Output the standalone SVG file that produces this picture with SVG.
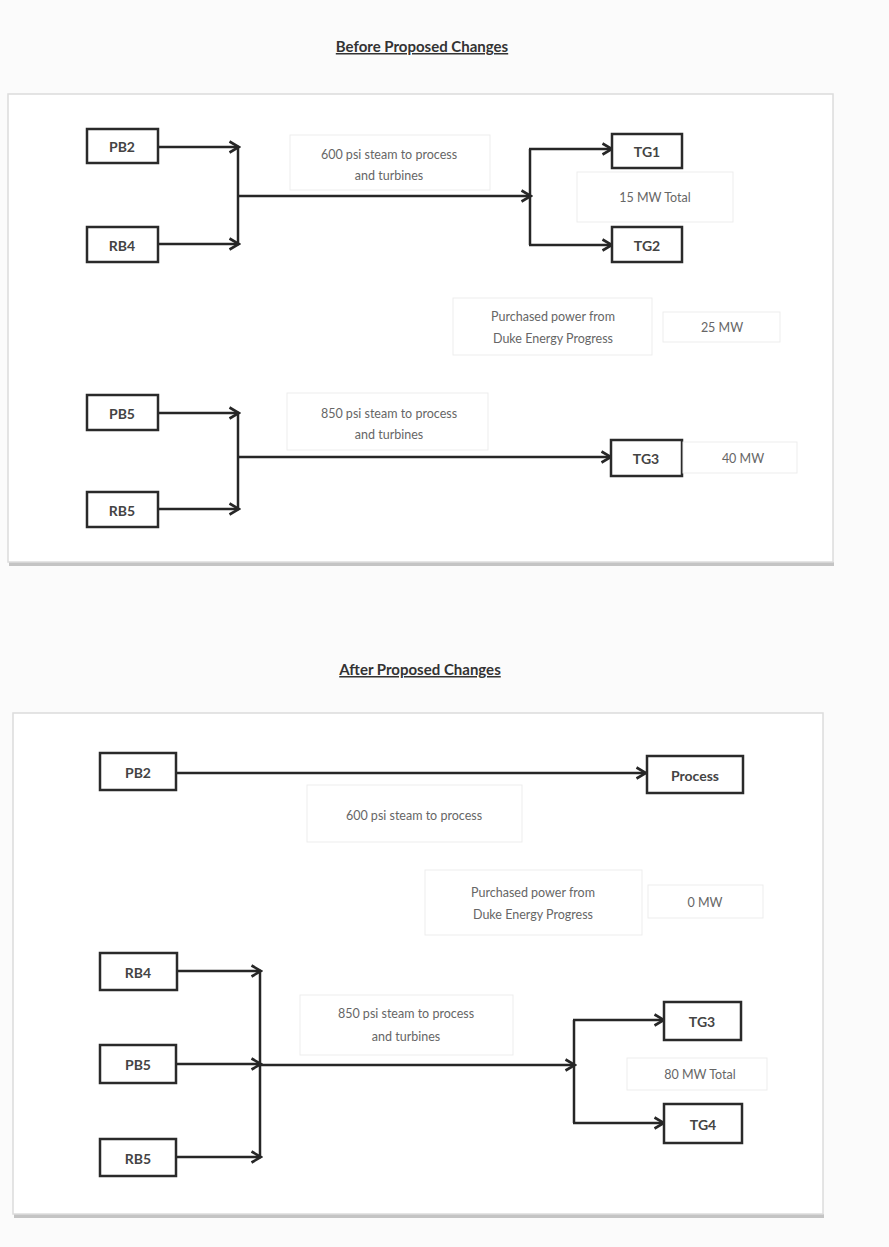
<svg xmlns="http://www.w3.org/2000/svg" width="889" height="1247" viewBox="0 0 889 1247">
<defs>
<marker id="chev" viewBox="0 0 14 14" refX="12.5" refY="7" markerWidth="14" markerHeight="14" orient="auto" markerUnits="userSpaceOnUse">
<path d="M3,1.5 L12.5,7 L3,12.5" fill="none" stroke="#262626" stroke-width="2.6"/>
</marker>
<style>
.panel{fill:#ffffff;stroke:#dcdcdc;stroke-width:1.5}
.shadow{fill:#c4c4c4}
.node{fill:#ffffff;stroke:#2a2a2a;stroke-width:2.5}
.lbl{fill:#ffffff;stroke:#ededed;stroke-width:1}
.nt{font-family:Lato,'Liberation Sans',sans-serif;font-weight:bold;font-size:14px;fill:#444;text-anchor:middle;dominant-baseline:central}
.dt{font-family:Lato,'Liberation Sans',sans-serif;font-size:12.5px;fill:#666;text-anchor:middle;dominant-baseline:central}
.title{font-family:Lato,'Liberation Sans',sans-serif;font-weight:bold;font-size:15px;fill:#333;text-anchor:middle;text-decoration:underline}
.c{fill:none;stroke:#262626;stroke-width:2.5}
.ca{fill:none;stroke:#262626;stroke-width:2.5;marker-end:url(#chev)}
</style>
</defs>
<rect x="0" y="0" width="889" height="1247" fill="#fbfbfb"/>

<!-- Before panel -->
<g id="panel-before">
<rect class="shadow" x="9" y="562" width="825" height="4"/>
<rect class="panel" x="8" y="94" width="825" height="468"/>
<text class="title" x="422" y="52">Before Proposed Changes</text>
</g>

<!-- After panel -->
<g id="panel-after">
<rect class="shadow" x="14" y="1214" width="810" height="4"/>
<rect class="panel" x="13" y="713" width="810" height="501"/>
<text class="title" x="420" y="675">After Proposed Changes</text>
</g>

<!-- Connectors -->
<g id="connectors">
<!-- before, 600 psi -->
<line class="ca" x1="158" y1="147" x2="239" y2="147"/>
<line class="ca" x1="158" y1="244" x2="239" y2="244"/>
<line class="c" x1="238" y1="147" x2="238" y2="244"/>
<line class="ca" x1="238" y1="196" x2="531" y2="196"/>
<line class="c" x1="530" y1="149" x2="530" y2="245"/>
<line class="ca" x1="529" y1="149" x2="612" y2="149"/>
<line class="ca" x1="529" y1="245" x2="612" y2="245"/>
<!-- before, 850 psi -->
<line class="ca" x1="158" y1="413" x2="239" y2="413"/>
<line class="ca" x1="158" y1="509" x2="239" y2="509"/>
<line class="c" x1="238" y1="413" x2="238" y2="509"/>
<line class="ca" x1="238" y1="457" x2="611" y2="457"/>
<!-- after, 600 psi -->
<line class="ca" x1="176" y1="773" x2="646" y2="773"/>
<!-- after, 850 psi -->
<line class="ca" x1="177" y1="971" x2="261" y2="971"/>
<line class="ca" x1="176" y1="1064" x2="261" y2="1064"/>
<line class="ca" x1="176" y1="1157" x2="261" y2="1157"/>
<line class="c" x1="260" y1="971" x2="260" y2="1157"/>
<line class="ca" x1="260" y1="1065" x2="575" y2="1065"/>
<line class="c" x1="574" y1="1020" x2="574" y2="1123"/>
<line class="ca" x1="573" y1="1020" x2="664" y2="1020"/>
<line class="ca" x1="573" y1="1123" x2="664" y2="1123"/>
</g>

<!-- Before nodes -->
<g id="b-PB2"><rect class="node" x="87" y="129" width="71" height="34"/><text class="nt" x="122" y="146">PB2</text></g>
<g id="b-RB4"><rect class="node" x="87" y="227" width="71" height="35"/><text class="nt" x="122" y="245">RB4</text></g>
<g id="b-PB5"><rect class="node" x="87" y="395" width="71" height="35"/><text class="nt" x="122" y="413">PB5</text></g>
<g id="b-RB5"><rect class="node" x="87" y="492" width="71" height="35"/><text class="nt" x="122" y="510">RB5</text></g>
<g id="b-TG1"><rect class="node" x="612" y="134" width="70" height="34"/><text class="nt" x="647" y="151">TG1</text></g>
<g id="b-TG2"><rect class="node" x="612" y="227" width="70" height="35"/><text class="nt" x="647" y="245">TG2</text></g>
<g id="b-TG3"><rect class="node" x="611" y="440" width="71" height="36"/><text class="nt" x="646" y="458">TG3</text></g>

<g id="b-lbl600"><rect class="lbl" x="290" y="135" width="200" height="55"/><text class="dt" x="389" y="154">600 psi steam to process</text><text class="dt" x="389" y="175">and turbines</text></g>
<g id="b-lbl15"><rect class="lbl" x="577" y="172" width="156" height="50"/><text class="dt" x="655" y="197">15 MW Total</text></g>
<g id="b-lblpp"><rect class="lbl" x="453" y="298" width="199" height="57"/><text class="dt" x="553" y="316">Purchased power from</text><text class="dt" x="553" y="338">Duke Energy Progress</text></g>
<g id="b-lbl25"><rect class="lbl" x="663" y="312" width="117" height="30"/><text class="dt" x="722" y="327">25 MW</text></g>
<g id="b-lbl850"><rect class="lbl" x="287" y="393" width="201" height="57"/><text class="dt" x="389" y="413">850 psi steam to process</text><text class="dt" x="389" y="434">and turbines</text></g>
<g id="b-lbl40"><rect class="lbl" x="683" y="442" width="114" height="31"/><text class="dt" x="743" y="458">40 MW</text></g>

<!-- After nodes -->
<g id="a-PB2"><rect class="node" x="100" y="753" width="76" height="37"/><text class="nt" x="138" y="772">PB2</text></g>
<g id="a-Process"><rect class="node" x="647" y="756" width="96" height="37"/><text class="nt" x="695" y="775">Process</text></g>
<g id="a-RB4"><rect class="node" x="100" y="953" width="77" height="37"/><text class="nt" x="138" y="972">RB4</text></g>
<g id="a-PB5"><rect class="node" x="100" y="1045" width="76" height="38"/><text class="nt" x="138" y="1064">PB5</text></g>
<g id="a-RB5"><rect class="node" x="100" y="1139" width="76" height="37"/><text class="nt" x="138" y="1158">RB5</text></g>
<g id="a-TG3"><rect class="node" x="664" y="1002" width="77" height="38"/><text class="nt" x="702" y="1021">TG3</text></g>
<g id="a-TG4"><rect class="node" x="664" y="1104" width="78" height="39"/><text class="nt" x="703" y="1124">TG4</text></g>

<g id="a-lbl600"><rect class="lbl" x="307" y="785" width="215" height="57"/><text class="dt" x="414" y="815">600 psi steam to process</text></g>
<g id="a-lblpp"><rect class="lbl" x="425" y="870" width="217" height="65"/><text class="dt" x="533" y="892">Purchased power from</text><text class="dt" x="533" y="914">Duke Energy Progress</text></g>
<g id="a-lbl0"><rect class="lbl" x="648" y="885" width="115" height="33"/><text class="dt" x="705" y="902">0 MW</text></g>
<g id="a-lbl850"><rect class="lbl" x="300" y="995" width="213" height="60"/><text class="dt" x="406" y="1013">850 psi steam to process</text><text class="dt" x="406" y="1036">and turbines</text></g>
<g id="a-lbl80"><rect class="lbl" x="627" y="1058" width="140" height="32"/><text class="dt" x="700" y="1074">80 MW Total</text></g>
</svg>
